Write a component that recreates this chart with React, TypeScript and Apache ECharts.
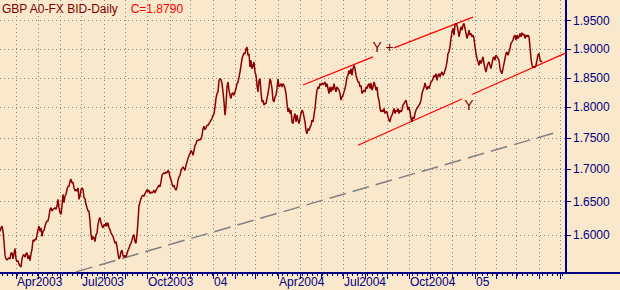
import React, { useEffect, useRef } from 'react';
import * as echarts from 'echarts';

// ---- data ----
const START_DATE_UTC = Date.UTC(2003, 2, 10); // first weekday on the axis
const DAY_COUNT = 567; // weekdays on the axis

const closesA = [
  1.6056, 1.6106, 1.6131, 1.6056, 1.5904, 1.5702, 1.5652, 1.5636, 1.5652, 1.5667,
  1.5652, 1.5737, 1.5737, 1.5652, 1.5727, 1.5803, 1.5652, 1.5611, 1.5626, 1.5576,
  1.5551, 1.5535, 1.5652, 1.5702, 1.5712, 1.5677, 1.5727, 1.5737, 1.5652, 1.5702,
  1.5626, 1.5727, 1.5788, 1.5929, 1.5904, 1.5939, 1.5929, 1.6005, 1.6081, 1.6131,
  1.6056, 1.6106, 1.5980, 1.6056, 1.6071, 1.6131, 1.6182, 1.6207, 1.6207, 1.6283,
  1.6384, 1.6409, 1.6359, 1.6384, 1.6394, 1.6409, 1.6384, 1.6434, 1.6535, 1.6409,
  1.6333, 1.6308, 1.6434, 1.6611, 1.6485, 1.6586, 1.6611, 1.6687, 1.6737, 1.6737,
  1.6813, 1.6848, 1.6788, 1.6798, 1.6712, 1.6662, 1.6687, 1.6662, 1.6712, 1.6535,
  1.6586, 1.6687, 1.6712, 1.6687, 1.6561, 1.6545, 1.6460, 1.6409, 1.6359, 1.6359,
  1.6207, 1.6005, 1.5929, 1.5980, 1.5955, 1.5904, 1.6005, 1.6030, 1.6157, 1.6232,
  1.6258, 1.6182, 1.6131, 1.6106, 1.6157, 1.6131, 1.6182, 1.6131, 1.6182, 1.6106,
  1.6081, 1.6030, 1.6005, 1.5980, 1.5929, 1.5879, 1.5904, 1.5828, 1.5727, 1.5652,
  1.5677, 1.5753, 1.5778, 1.5702, 1.5677, 1.5702, 1.5677, 1.5727, 1.5778, 1.5803,
  1.5854, 1.5879, 1.5929, 1.5980, 1.6005, 1.5904, 1.5879, 1.6005, 1.6207, 1.6434,
];
const closesB = [
  1.6495, 1.6547, 1.6583, 1.6598, 1.6583, 1.6624, 1.6650, 1.6686, 1.6650, 1.6676,
  1.6624, 1.6650, 1.6634, 1.6650, 1.6676, 1.6634, 1.6676, 1.6701, 1.6727, 1.6753,
  1.6727, 1.6804, 1.6907, 1.6933, 1.6943, 1.6933, 1.6959, 1.6943, 1.6985, 1.6959,
  1.6882, 1.6840, 1.6779, 1.6727, 1.6753, 1.6701, 1.6676, 1.6727, 1.6830, 1.6882,
  1.6907, 1.6985, 1.7011, 1.7037, 1.7011, 1.6985, 1.7063, 1.7116, 1.7169, 1.7221,
  1.7248, 1.7300, 1.7274, 1.7221, 1.7300, 1.7379, 1.7405, 1.7458, 1.7458, 1.7474,
  1.7468, 1.7484, 1.7539, 1.7650, 1.7689, 1.7633, 1.7666, 1.7705, 1.7705, 1.7733,
  1.7761, 1.7789, 1.7817, 1.7872, 1.7889, 1.8011, 1.8150, 1.8233, 1.8261, 1.8456,
  1.8483, 1.8467, 1.8400, 1.8261, 1.8094, 1.7872, 1.8039, 1.8344, 1.8428, 1.8289,
  1.8205, 1.8150, 1.8233, 1.8244, 1.8205, 1.8261, 1.8317, 1.8400, 1.8428, 1.8511,
  1.8597, 1.8712, 1.8827, 1.8885, 1.8925, 1.8914, 1.9000, 1.9030, 1.8885, 1.8914,
  1.8684, 1.8799, 1.8655, 1.8712, 1.8770, 1.8597, 1.8540, 1.8372, 1.8261, 1.8456,
  1.8483, 1.8261, 1.8094, 1.8122, 1.8039, 1.8066, 1.8066, 1.8150, 1.8233, 1.8344,
  1.8483, 1.8428, 1.8317, 1.8122, 1.8094, 1.8178, 1.8205, 1.8317, 1.8483, 1.8344,
];
const closesC = [
  1.8372, 1.8400, 1.8344, 1.8400, 1.8372, 1.8317, 1.8233, 1.8066, 1.7928, 1.7983,
  1.7900, 1.7956, 1.7761, 1.7733, 1.7844, 1.7900, 1.7761, 1.7872, 1.7789, 1.7733,
  1.7817, 1.7900, 1.7956, 1.7928, 1.7844, 1.7761, 1.7622, 1.7566, 1.7650, 1.7622,
  1.7678, 1.7705, 1.7789, 1.7761, 1.7872, 1.7983, 1.8150, 1.8289, 1.8344, 1.8317,
  1.8400, 1.8372, 1.8411, 1.8383, 1.8400, 1.8428, 1.8344, 1.8400, 1.8317, 1.8233,
  1.8344, 1.8261, 1.8344, 1.8289, 1.8400, 1.8317, 1.8261, 1.8344, 1.8317, 1.8289,
  1.8233, 1.8122, 1.8178, 1.8205, 1.8261, 1.8317, 1.8400, 1.8512, 1.8540, 1.8627,
  1.8569, 1.8655, 1.8540, 1.8655, 1.8713, 1.8655, 1.8540, 1.8483, 1.8428, 1.8428,
  1.8344, 1.8372, 1.8233, 1.8261, 1.8289, 1.8261, 1.8344, 1.8317, 1.8372, 1.8400,
  1.8317, 1.8411, 1.8289, 1.8344, 1.8428, 1.8372, 1.8289, 1.8344, 1.8178, 1.8122,
  1.7983, 1.7928, 1.7956, 1.7928, 1.7983, 1.7900, 1.7928, 1.7928, 1.7844, 1.7789,
  1.7761, 1.7844, 1.7872, 1.7928, 1.7983, 1.7900, 1.7956, 1.7928, 1.7983, 1.7900,
  1.7956, 1.7928, 1.7956, 1.8039, 1.8066, 1.8094, 1.8122, 1.8039, 1.7956, 1.8011,
  1.7928, 1.7817, 1.7761, 1.7844, 1.7817, 1.7900, 1.7956, 1.7983, 1.8011, 1.8039,
];
const closesD = [
  1.8066, 1.8122, 1.8233, 1.8289, 1.8333, 1.8411, 1.8344, 1.8300, 1.8355, 1.8317,
  1.8372, 1.8428, 1.8444, 1.8483, 1.8541, 1.8512, 1.8570, 1.8456, 1.8541, 1.8570,
  1.8512, 1.8570, 1.8599, 1.8541, 1.8570, 1.8628, 1.8686, 1.8773, 1.8918, 1.8947,
  1.9036, 1.9184, 1.9303, 1.9363, 1.9244, 1.9422, 1.9452, 1.9422, 1.9333, 1.9214,
  1.9303, 1.9393, 1.9333, 1.9422, 1.9452, 1.9363, 1.9274, 1.9184, 1.9244, 1.9333,
  1.9244, 1.9274, 1.9214, 1.9244, 1.9184, 1.9036, 1.8919, 1.8832, 1.8773, 1.8715,
  1.8802, 1.8744, 1.8802, 1.8861, 1.8744, 1.8657, 1.8599, 1.8686, 1.8744, 1.8773,
  1.8715, 1.8657, 1.8744, 1.8832, 1.8861, 1.8802, 1.8890, 1.8861, 1.8832, 1.8802,
  1.8657, 1.8599, 1.8570, 1.8657, 1.8744, 1.8832, 1.8919, 1.8948, 1.8890, 1.8948,
  1.9006, 1.9095, 1.9125, 1.9155, 1.9214, 1.9244, 1.9155, 1.9244, 1.9184, 1.9214,
  1.9274, 1.9214, 1.9286, 1.9244, 1.9262, 1.9184, 1.9244, 1.9214, 1.9244, 1.9214,
  1.9036, 1.8832, 1.8715, 1.8675, 1.8698, 1.8675, 1.8715, 1.8802, 1.8890, 1.8919,
  1.8814, 1.8773, 1.8790,
];

const priceTicks = [1.6, 1.65, 1.7, 1.75, 1.8, 1.85, 1.9, 1.95];
const PRICE_MIN = 1.5449;
const PRICE_MAX = 1.9877;

// drawn trend lines: [weekday index, price]
const upperChannelA = [[303, 1.8377], [373, 1.8861]];
const upperChannelB = [[394, 1.9018], [473, 1.9565]];
const lowerChannelA = [[358, 1.7382], [462, 1.8141]];
const lowerChannelB = [[472, 1.8216], [566, 1.893]];
const longTrendLine = [[76, 1.5465], [558, 1.76]];
const annotationTexts = ['Y +', 'Y'];
const annotationDays = [383, 469];
const annotationPrices = [1.9035, 1.8049];

const MONTHS = ['Jan', 'Feb', 'Mar', 'Apr', 'May', 'Jun', 'Jul', 'Aug', 'Sep', 'Oct', 'Nov', 'Dec'];

const NAVY = '#000080';
const FONT = '"Liberation Sans", Arial, sans-serif';

const closes = [...closesA, ...closesB, ...closesC, ...closesD];

function buildDays(): string[] {
  const out: string[] = [];
  let t = START_DATE_UTC;
  while (out.length < DAY_COUNT) {
    const d = new Date(t);
    const wd = d.getUTCDay();
    if (wd !== 0 && wd !== 6) out.push(d.toISOString().slice(0, 10));
    t += 86400000;
  }
  return out;
}

export default function App() {
  const ref = useRef<HTMLDivElement>(null);

  useEffect(() => {
    if (!ref.current) return;
    const chart = echarts.init(ref.current, undefined, { renderer: 'svg' });
    const days = buildDays();
    const isMonthStart = (i: number) => i > 0 && days[i].slice(5, 7) !== days[i - 1].slice(5, 7);
    // quarterly labels; the one that would run past the price axis is left out
    const isQuarterStart = (i: number) =>
      isMonthStart(i) && [1, 4, 7, 10].includes(+days[i].slice(5, 7)) && i < DAY_COUNT - 40;
    const labelFor = (i: number) => {
      const m = +days[i].slice(5, 7);
      const y = days[i].slice(0, 4);
      return m === 1 ? y.slice(2) : MONTHS[m - 1] + y;
    };
    const ln = Math.log;
    const seg = (pts: number[][], color: string, width: number, type: any) => [
      { coord: [days[pts[0][0]], ln(pts[0][1])], lineStyle: { color, width, type } },
      { coord: [days[pts[1][0]], ln(pts[1][1])] },
    ];
    const GRID_RIGHT = 54;
    const GRID_BOTTOM = 17;
    const last = closes[closes.length - 1];

    chart.setOption({
      animation: false,
      backgroundColor: '#FAE8CC',
      textStyle: { fontFamily: FONT },
      title: {
        left: 2,
        top: 3,
        padding: 0,
        text: `{a|GBP A0-FX BID-Daily}{b|C=${last.toFixed(4)}}`,
        textStyle: {
          fontWeight: 'normal',
          rich: {
            a: { color: '#800000', fontSize: 12, fontWeight: 'normal', fontFamily: FONT },
            b: { color: '#FF0000', fontSize: 12, fontWeight: 'normal', fontFamily: FONT, padding: [0, 0, 0, 12] },
          },
        },
      },
      grid: { left: 0, right: GRID_RIGHT, top: 0, bottom: GRID_BOTTOM, containLabel: false, outerBoundsMode: 'none' },
      xAxis: [
        {
          type: 'category',
          data: days,
          boundaryGap: false,
          position: 'bottom',
          axisLine: { show: true, lineStyle: { color: NAVY, width: 2 } },
          axisTick: { show: true, length: 6, interval: (i: number) => isMonthStart(i), lineStyle: { color: NAVY, width: 1 } },
          axisLabel: {
            show: true,
            interval: (i: number) => isQuarterStart(i),
            formatter: (_v: string, i: number) => labelFor(i),
            color: NAVY,
            fontSize: 12,
            fontFamily: FONT,
            align: 'left',
            margin: 3,
            padding: [0, 0, 0, 1],
          },
          splitLine: { show: true, interval: (i: number) => isMonthStart(i), lineStyle: { color: '#888888', type: [1, 3], width: 1 } },
        },
        {
          type: 'category',
          data: days,
          boundaryGap: false,
          position: 'bottom',
          axisLine: { show: false },
          axisTick: { show: true, length: 3, interval: (i: number) => i % 5 === 2, lineStyle: { color: NAVY, width: 1 } },
          axisLabel: { show: false },
          splitLine: { show: false },
        },
      ],
      yAxis: {
        type: 'value',
        position: 'right',
        min: ln(PRICE_MIN),
        max: ln(PRICE_MAX),
        axisLine: { show: true, lineStyle: { color: NAVY, width: 2 } },
        axisTick: { show: true, length: 5, customValues: priceTicks.map(ln), lineStyle: { color: NAVY } },
        axisLabel: {
          customValues: priceTicks.map(ln),
          formatter: (v: number) => Math.exp(v).toFixed(4),
          color: NAVY,
          fontSize: 12,
          fontFamily: FONT,
          margin: 7,
        },
        splitLine: { show: true, lineStyle: { color: '#888888', type: [1, 3], width: 1 } },
      },
      graphic: [
        {
          type: 'line',
          shape: { x1: 620 - GRID_RIGHT, y1: 290 - GRID_BOTTOM, x2: 620, y2: 290 - GRID_BOTTOM },
          style: { stroke: NAVY, lineWidth: 2 },
          silent: true,
        },
      ],
      series: [
        {
          type: 'line',
          xAxisIndex: 0,
          data: closes.map((p) => ln(p)),
          showSymbol: false,
          symbol: 'none',
          lineStyle: { color: '#8B0000', width: 1.5 },
          silent: true,
          z: 3,
          markLine: {
            silent: true,
            symbol: ['none', 'none'],
            label: { show: false },
            z: 2,
            data: [
              seg(upperChannelA, '#FF0000', 1.2, 'solid'),
              seg(upperChannelB, '#FF0000', 1.2, 'solid'),
              seg(lowerChannelA, '#FF0000', 1.2, 'solid'),
              seg(lowerChannelB, '#FF0000', 1.2, 'solid'),
              seg(longTrendLine, '#808080', 1.5, [17, 7]),
            ],
          },
          markPoint: {
            silent: true,
            symbol: 'circle',
            symbolSize: 0,
            label: {
              show: true,
              position: 'inside',
              color: '#800000',
              fontSize: 14,
              fontFamily: FONT,
              formatter: (p: any) => p.name,
            },
            data: annotationTexts.map((t, k) => ({
              name: t,
              coord: [days[annotationDays[k]], ln(annotationPrices[k])],
            })),
          },
        },
      ],
    });
    return () => chart.dispose();
  }, []);

  return <div ref={ref} style={{ position: 'fixed', left: 0, top: 0, width: 620, height: 290 }} />;
}
